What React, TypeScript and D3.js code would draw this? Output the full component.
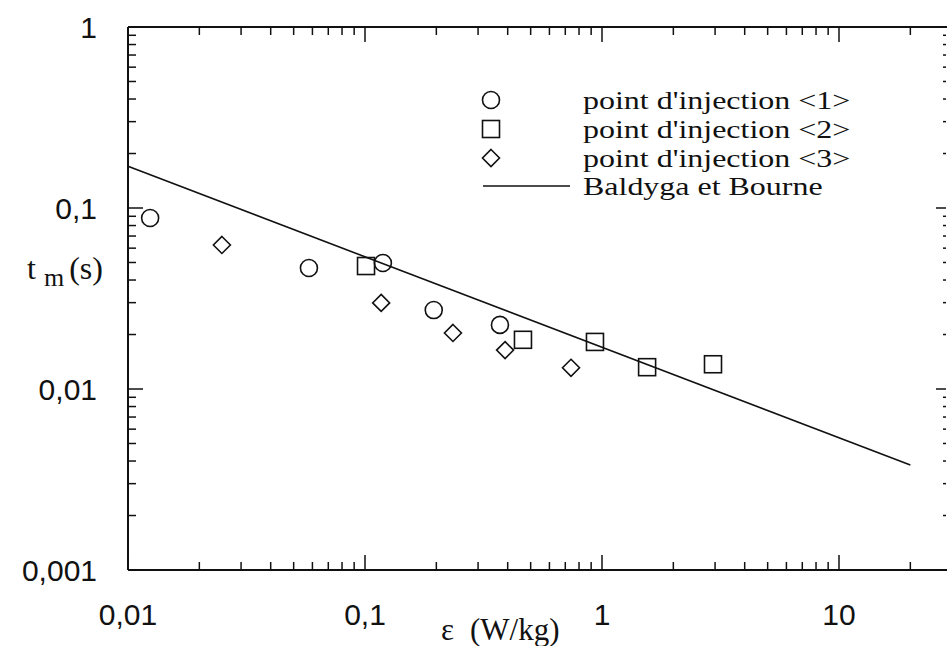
import React from "react";
import * as d3 from "d3";

const W = 947, H = 646;

// data: epsilon (W/kg) and mixing time t_m (s)
const inj1Eps = [0.0124, 0.058, 0.119, 0.195, 0.371];
const inj1Tm = [0.088, 0.0466, 0.0497, 0.0273, 0.0226];
const inj2Eps = [0.101, 0.464, 0.934, 1.55, 2.94];
const inj2Tm = [0.0478, 0.0187, 0.0182, 0.0132, 0.0137];
const inj3Eps = [0.0249, 0.117, 0.235, 0.39, 0.74];
const inj3Tm = [0.0625, 0.0299, 0.0204, 0.0164, 0.0131];
const lineEps = [0.01, 20];
const lineTm = [0.17, 0.0038];

const xTickVals = [0.01, 0.1, 1, 10];
const xTickLabels = ["0,01", "0,1", "1", "10"];
const yTickVals = [1, 0.1, 0.01, 0.001];
const yTickLabels = ["1", "0,1", "0,01", "0,001"];
const legendLabels = [
  "point d'injection <1>",
  "point d'injection <2>",
  "point d'injection <3>",
  "Baldyga et Bourne",
];

const L = 128, R = 946, T = 27, B = 570;
const x = d3.scaleLog().domain([0.01, 10]).range([L, 839]);
const y = d3.scaleLog().domain([0.001, 1]).range([B, T]);

function minorTicks(lo: number, hi: number) {
  const out: { v: number; major: boolean }[] = [];
  for (let e = lo; e <= hi; e++) {
    for (let m = 1; m <= 9; m++) out.push({ v: m * Math.pow(10, e), major: m === 1 });
  }
  return out;
}

const xTicks = minorTicks(-2, 1).filter((t) => t.v >= 0.01 && t.v <= 25);
const yTicks = minorTicks(-3, -1).concat([{ v: 1, major: true }]);

const sans = "'Liberation Sans', Arial, sans-serif";
const serif = "'Liberation Serif', 'Times New Roman', serif";

function Circle({ cx, cy }: { cx: number; cy: number }) {
  return <circle cx={cx} cy={cy} r={8.5} fill="none" stroke="#111" strokeWidth={1.6} />;
}
function Square({ cx, cy }: { cx: number; cy: number }) {
  return <rect x={cx - 8.5} y={cy - 8.5} width={17} height={17} fill="none" stroke="#111" strokeWidth={1.6} />;
}
function Diamond({ cx, cy }: { cx: number; cy: number }) {
  const r = 8.5;
  return (
    <path d={`M${cx},${cy - r}L${cx + r},${cy}L${cx},${cy + r}L${cx - r},${cy}Z`} fill="none" stroke="#111" strokeWidth={1.6} />
  );
}

export default function App() {
  const line = d3
    .line<number>()
    .x((_, i) => x(lineEps[i]))
    .y((d) => y(d));
  const legX = 491, legTextX = 583;
  const legY = [100, 129, 158, 186];
  return (
    <svg width={W} height={H} style={{ position: "absolute", left: 0, top: 0, background: "#fff" }}>
      <rect width={W} height={H} fill="#fff" />
      {/* frame */}
      <line x1={L} y1={T} x2={L} y2={B} stroke="#111" strokeWidth={2} />
      <line x1={L} y1={B} x2={W} y2={B} stroke="#111" strokeWidth={2} />
      <line x1={L} y1={T} x2={W} y2={T} stroke="#111" strokeWidth={2} />
      {/* x ticks bottom & top */}
      {xTicks.map((t, i) => {
        const px = x(t.v);
        const len = t.major ? 15 : 8;
        return (
          <g key={"xt" + i}>
            <line x1={px} x2={px} y1={B} y2={B - len} stroke="#111" strokeWidth={1.5} />
            <line x1={px} x2={px} y1={T} y2={T + len} stroke="#111" strokeWidth={1.5} />
          </g>
        );
      })}
      {/* y ticks left & right */}
      {yTicks.map((t, i) => {
        const py = y(t.v);
        const len = t.major ? 15 : 8;
        return (
          <g key={"yt" + i}>
            <line x1={L} x2={L + len} y1={py} y2={py} stroke="#111" strokeWidth={1.5} />
            <line x1={R} x2={R - (t.major ? 10 : 3)} y1={py} y2={py} stroke="#111" strokeWidth={1.5} />
          </g>
        );
      })}
      {/* tick labels */}
      {xTickVals.map((v, i) => (
        <text key={"xl" + i} x={x(v)} y={625} textAnchor="middle" fontFamily={sans} fontSize={30} fill="#111">
          {xTickLabels[i]}
        </text>
      ))}
      {yTickVals.map((v, i) => (
        <text key={"yl" + i} x={97} y={y(v) + 11} textAnchor="end" fontFamily={sans} fontSize={30} fill="#111">
          {yTickLabels[i]}
        </text>
      ))}
      {/* axis titles */}
      <text x={441} y={640} fontFamily={serif} fontSize={31} fill="#111">
        ε<tspan dx={16}>(W/kg)</tspan>
      </text>
      <text x={27} y={279} fontFamily={serif} fontSize={32} fill="#111">
        t<tspan dx={8} dy={7} fontSize={26}>m</tspan><tspan dy={-7} dx={5}>(s)</tspan>
      </text>
      {/* model line */}
      <path d={line(lineTm) || ""} fill="none" stroke="#111" strokeWidth={1.6} />
      {/* points */}
      {inj1Eps.map((e, i) => <Circle key={"c" + i} cx={x(e)} cy={y(inj1Tm[i])} />)}
      {inj2Eps.map((e, i) => <Square key={"s" + i} cx={x(e)} cy={y(inj2Tm[i])} />)}
      {inj3Eps.map((e, i) => <Diamond key={"d" + i} cx={x(e)} cy={y(inj3Tm[i])} />)}
      {/* legend */}
      <Circle cx={legX} cy={legY[0]} />
      <Square cx={legX} cy={legY[1]} />
      <Diamond cx={legX} cy={legY[2]} />
      <line x1={483} x2={570} y1={legY[3]} y2={legY[3]} stroke="#111" strokeWidth={1.6} />
      {legendLabels.map((s, i) => (
        <text
          key={"lg" + i}
          transform={`translate(${legTextX},${legY[i] + 9}) scale(1.23,1)`}
          fontFamily={serif}
          fontSize={26}
          fill="#111"
        >
          {s}
        </text>
      ))}
    </svg>
  );
}
